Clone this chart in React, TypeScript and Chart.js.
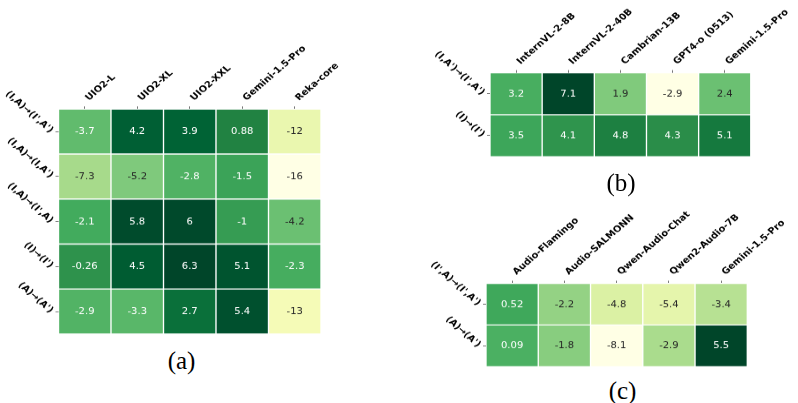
import React, { useEffect, useRef } from "react";
import { Chart, registerables } from "chart.js";

Chart.register(...registerables);

// ---------- Data ----------
const aRows = ["(I,A)→(I',A')", "(I,A)→(I,A')", "(I,A)→(I',A)", "(I)→(I')", "(A)→(A')"];
const aCols = ["UIO2-L", "UIO2-XL", "UIO2-XXL", "Gemini-1.5-Pro", "Reka-core"];
const aValues = [
  [-3.7, 4.2, 3.9, 0.88, -12],
  [-7.3, -5.2, -2.8, -1.5, -16],
  [-2.1, 5.8, 6, -1, -4.2],
  [-0.26, 4.5, 6.3, 5.1, -2.3],
  [-2.9, -3.3, 2.7, 5.4, -13],
];

const bRows = ["(I,A')→(I',A')", "(I)→(I')"];
const bCols = ["InternVL-2-8B", "InternVL-2-40B", "Cambrian-13B", "GPT4-o (0513)", "Gemini-1.5-Pro"];
const bValues = [
  [3.2, 7.1, 1.9, -2.9, 2.4],
  [3.5, 4.1, 4.8, 4.3, 5.1],
];

const cRows = ["(I',A)→(I',A')", "(A)→(A')"];
const cCols = ["Audio-Flamingo", "Audio-SALMONN", "Qwen-Audio-Chat", "Qwen2-Audio-7B", "Gemini-1.5-Pro"];
const cValues = [
  [0.52, -2.2, -4.8, -5.4, -3.4],
  [0.09, -1.8, -8.1, -2.9, 5.5],
];

// ---------- Colormap (YlGn) ----------
const YLGN: number[][] = [
  [255, 255, 229], [247, 252, 185], [217, 240, 163], [173, 221, 142], [120, 198, 121],
  [65, 171, 93], [35, 132, 67], [0, 104, 55], [0, 69, 41],
];

function ylgn(t: number): number[] {
  const tt = Math.max(0, Math.min(1, t));
  const n = YLGN.length;
  const s = tt * (n - 1);
  const i = Math.min(Math.floor(s), n - 2);
  const f = s - i;
  return [0, 1, 2].map((k) => YLGN[i][k] + (YLGN[i + 1][k] - YLGN[i][k]) * f);
}

function rgbStr(c: number[]) {
  return `rgb(${Math.round(c[0])},${Math.round(c[1])},${Math.round(c[2])})`;
}

function luminance(c: number[]) {
  const lin = c.map((v) => {
    const s = v / 255;
    return s <= 0.03928 ? s / 12.92 : Math.pow((s + 0.055) / 1.055, 2.4);
  });
  return 0.2126 * lin[0] + 0.7152 * lin[1] + 0.0722 * lin[2];
}

type Box = { left: number; top: number; width: number; height: number };
type Area = { left: number; top: number; right: number; bottom: number };

// The source figure is slightly squashed vertically; emulate with a CSS scaleY.
const SQUASH = 0.87;

function Heatmap(props: { rows: string[]; cols: string[]; values: number[][]; box: Box; area: Area }) {
  const { rows, cols, values, box, area } = props;
  const ref = useRef<HTMLCanvasElement>(null);
  const innerH = Math.round(box.height / SQUASH);

  useEffect(() => {
    if (!ref.current) return;
    const flat = values.flat();
    const vmin = Math.min(...flat);
    const vmax = Math.max(...flat);
    const colorOf = (v: number) => ylgn((v - vmin) / (vmax - vmin));

    const datasets = rows.map((r, i) => ({
      label: r,
      data: cols.map(() => [i - 0.5, i + 0.5]),
      backgroundColor: values[i].map((v) => rgbStr(colorOf(v))),
      borderColor: "#ffffff",
      borderWidth: 1,
      borderSkipped: false,
      grouped: false,
      barPercentage: 1,
      categoryPercentage: 1,
    }));

    const labelPlugin = {
      id: "cellLabels",
      afterDatasetsDraw(chart: any) {
        const ctx = chart.ctx;
        ctx.save();
        ctx.font = "10px 'DejaVu Sans'";
        ctx.textAlign = "center";
        ctx.textBaseline = "middle";
        chart.data.datasets.forEach((_: any, i: number) => {
          const meta = chart.getDatasetMeta(i);
          meta.data.forEach((el: any, j: number) => {
            const p = el.getProps(["x", "y", "base"], true);
            const v = values[i][j];
            ctx.fillStyle = luminance(colorOf(v)) > 0.408 ? "#262626" : "#ffffff";
            ctx.fillText(String(v), p.x, (p.y + p.base) / 2 + 0.5);
          });
        });
        ctx.restore();
      },
    };

    const tickFont = { family: "'DejaVu Sans'", size: 10, weight: "bold" as const };
    const gridOpts = {
      offset: false,
      drawOnChartArea: false,
      drawTicks: true,
      tickLength: 3,
      color: "#555555",
      lineWidth: 0.8,
    };

    const topI = (area.top - box.top) / SQUASH;
    const bottomI = (area.bottom - box.top) / SQUASH;

    const chart = new Chart(ref.current, {
      type: "bar",
      data: { labels: cols, datasets: datasets as any },
      options: {
        animation: false,
        responsive: false,
        layout: {
          padding: {
            left: 0,
            top: 0,
            right: box.left + box.width - area.right,
            bottom: innerH - bottomI,
          },
        },
        plugins: { legend: { display: false }, tooltip: { enabled: false } },
        scales: {
          x: {
            type: "category",
            position: "top",
            offset: true,
            grid: gridOpts,
            border: { display: false },
            ticks: {
              minRotation: 45,
              maxRotation: 45,
              padding: 4,
              labelOffset: 11,
              color: "#000000",
              font: tickFont,
              autoSkip: false,
            },
            afterFit: (s: any) => {
              s.height = topI;
              s.paddingLeft = 0;
              s.paddingRight = 0;
              s.paddingTop = 0;
              s.paddingBottom = 0;
            },
          },
          y: {
            type: "linear",
            reverse: true,
            min: -0.5,
            max: rows.length - 0.5,
            afterBuildTicks: (s: any) => {
              s.ticks = rows.map((_, i) => ({ value: i }));
            },
            grid: gridOpts,
            border: { display: false },
            ticks: {
              minRotation: -45,
              maxRotation: -45,
              padding: 4,
              color: "#000000",
              font: tickFont,
              autoSkip: false,
              callback: (v: any) => rows[Math.round(Number(v))] ?? "",
            },
            afterFit: (s: any) => {
              s.width = area.left - box.left;
              s.paddingLeft = 0;
              s.paddingRight = 0;
              s.paddingTop = 0;
              s.paddingBottom = 0;
            },
          },
        },
      } as any,
      plugins: [labelPlugin],
    });
    return () => chart.destroy();
  }, []);

  return (
    <canvas
      ref={ref}
      width={box.width}
      height={innerH}
      style={{
        position: "absolute",
        left: box.left,
        top: box.top,
        width: box.width,
        height: innerH,
        transform: `scaleY(${SQUASH})`,
        transformOrigin: "0 0",
      }}
    />
  );
}

function PanelLabel(props: { text: string; cx: number; cy: number }) {
  return (
    <div
      style={{
        position: "absolute",
        left: props.cx - 40,
        top: props.cy - 14,
        width: 80,
        textAlign: "center",
        fontFamily: "'Liberation Serif', serif",
        fontSize: 25,
        lineHeight: "24px",
        color: "#000",
      }}
    >
      {props.text}
    </div>
  );
}

export default function App() {
  return (
    <div style={{ position: "absolute", left: 0, top: 0, width: 798, height: 403, background: "#fff", overflow: "hidden" }}>
      <Heatmap
        rows={aRows}
        cols={aCols}
        values={aValues}
        box={{ left: 0, top: 0, width: 350, height: 345 }}
        area={{ left: 58.5, top: 109, right: 321, bottom: 334 }}
      />
      <Heatmap
        rows={bRows}
        cols={bCols}
        values={bValues}
        box={{ left: 420, top: 0, width: 378, height: 165 }}
        area={{ left: 490, top: 72.7, right: 750.8, bottom: 156.7 }}
      />
      <Heatmap
        rows={cRows}
        cols={cCols}
        values={cValues}
        box={{ left: 400, top: 195, width: 398, height: 180 }}
        area={{ left: 486, top: 283.3, right: 747.3, bottom: 366.7 }}
      />
      <PanelLabel text="(a)" cx={181.5} cy={362.5} />
      <PanelLabel text="(b)" cx={621} cy={185} />
      <PanelLabel text="(c)" cx={622.5} cy={393} />
    </div>
  );
}
